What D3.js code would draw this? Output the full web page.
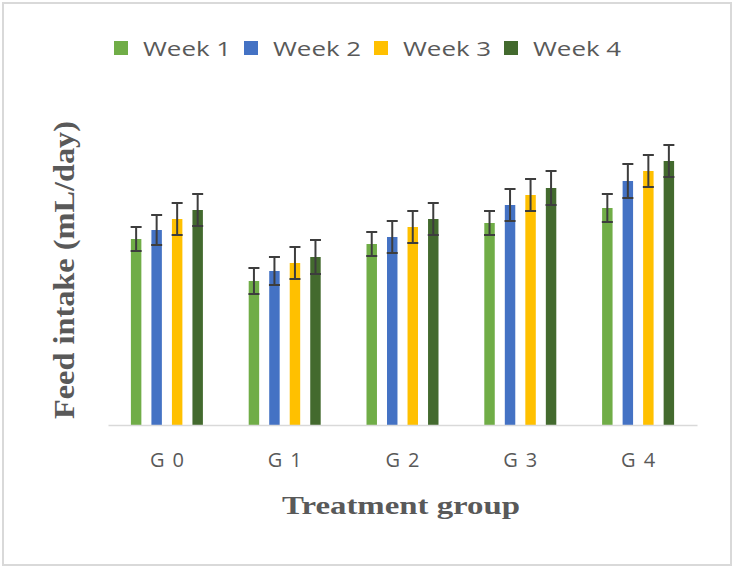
<!DOCTYPE html>
<html>
<head>
<meta charset="utf-8">
<script src="https://cdn.jsdelivr.net/npm/d3@7"></script>
<style>
  html, body { margin: 0; padding: 0; background: #fff; }
  svg { display: block; }
</style>
</head>
<body>
<svg id="chart" width="736" height="569"></svg>
<script>
// ---- data ----
const groups = ["G0", "G1", "G2", "G3", "G4"];
const weeks = ["Week 1", "Week 2", "Week 3", "Week 4"];
const week1 = [18.6, 14.4, 18.1, 20.2, 21.7];
const week2 = [19.5, 15.4, 18.8, 22.0, 24.4];
const week3 = [20.6, 16.2, 19.8, 23.0, 25.4];
const week4 = [21.5, 16.8, 20.6, 23.7, 26.4];
const err1 = [1.2, 1.3, 1.2, 1.2, 1.4];
const err2 = [1.5, 1.4, 1.6, 1.6, 1.7];
const err3 = [1.6, 1.6, 1.6, 1.6, 1.6];
const err4 = [1.6, 1.7, 1.6, 1.7, 1.6];
const colors = ["#70ad47", "#4472c4", "#ffc000", "#436a2e"];
const yTitle = "Feed intake (mL/day)";
const xTitle = "Treatment group";

const seriesVals = [week1, week2, week3, week4];
const seriesErr = [err1, err2, err3, err4];
const rows = [];
groups.forEach((g, gi) => {
  weeks.forEach((w, wi) => {
    rows.push({ group: g, week: w, wi, value: seriesVals[wi][gi], err: seriesErr[wi][gi] });
  });
});

const svg = d3.select("#chart");

// border
svg.append("rect")
  .attr("x", 3).attr("y", 3).attr("width", 728).attr("height", 562)
  .attr("fill", "#fff").attr("stroke", "#d9d9d9").attr("stroke-width", 2);

const x0 = d3.scaleBand().domain(groups).range([108, 697]).padding(0);
const x1 = d3.scaleBand().domain(weeks).range([-36, 36]).paddingInner(0.49).paddingOuter(0);
const y = d3.scaleLinear().domain([0, 32]).range([425, 105]);
const color = d3.scaleOrdinal().domain(weeks).range(colors);

// bars
svg.append("g").selectAll("rect").data(rows).join("rect")
  .attr("x", d => x0(d.group) + x0.bandwidth() / 2 + x1(d.week))
  .attr("y", d => y(d.value))
  .attr("width", x1.bandwidth())
  .attr("height", d => y(0) - y(d.value))
  .attr("fill", d => color(d.week));

// error bars
const eg = svg.append("g").attr("stroke", "#3d3d3d").attr("stroke-width", 2);
const cx = d => x0(d.group) + x0.bandwidth() / 2 + x1(d.week) + x1.bandwidth() / 2;
const capW = 5.5;
eg.selectAll("line.v").data(rows).join("line").attr("class", "v")
  .attr("x1", cx).attr("x2", cx)
  .attr("y1", d => y(d.value + d.err)).attr("y2", d => y(d.value - d.err));
eg.selectAll("line.t").data(rows).join("line").attr("class", "t")
  .attr("x1", d => cx(d) - capW).attr("x2", d => cx(d) + capW)
  .attr("y1", d => y(d.value + d.err)).attr("y2", d => y(d.value + d.err));
eg.selectAll("line.b").data(rows).join("line").attr("class", "b")
  .attr("x1", d => cx(d) - capW).attr("x2", d => cx(d) + capW)
  .attr("y1", d => y(d.value - d.err)).attr("y2", d => y(d.value - d.err));

// x axis
const xAxis = d3.axisBottom(x0).tickSize(0).tickPadding(0);
const ax = svg.append("g").attr("transform", `translate(0,${y(0)})`).call(xAxis);
ax.select(".domain").attr("stroke", "#d9d9d9").attr("stroke-width", 1.5);
ax.selectAll(".tick text")
  .attr("y", 42).attr("dy", 0)
  .attr("font-family", "'Open Sans', sans-serif")
  .attr("font-size", 20)
  .attr("fill", "#595959")
  .attr("textLength", 34)
  .attr("lengthAdjust", "spacing");

// axis titles
svg.append("text")
  .attr("transform", "translate(74,270) rotate(-90)")
  .attr("text-anchor", "middle")
  .attr("font-family", "'Liberation Serif', serif")
  .attr("font-weight", "bold")
  .attr("font-size", 30)
  .attr("fill", "#595959")
  .attr("textLength", 298)
  .attr("lengthAdjust", "spacingAndGlyphs")
  .text(yTitle);

svg.append("text")
  .attr("x", 401).attr("y", 514)
  .attr("text-anchor", "middle")
  .attr("font-family", "'Liberation Serif', serif")
  .attr("font-weight", "bold")
  .attr("font-size", 25)
  .attr("fill", "#595959")
  .attr("textLength", 238)
  .attr("lengthAdjust", "spacingAndGlyphs")
  .text(xTitle);

// legend
const lx = d3.scalePoint().domain(weeks).range([114, 504]);
const lg = svg.append("g").selectAll("g").data(weeks).join("g")
  .attr("transform", d => `translate(${lx(d)},41)`);
lg.append("rect").attr("width", 14).attr("height", 14).attr("fill", d => color(d));
lg.append("text")
  .attr("x", 29).attr("y", 14.5)
  .attr("font-family", "'Open Sans', sans-serif")
  .attr("font-size", 20)
  .attr("fill", "#595959")
  .attr("textLength", 88)
  .attr("lengthAdjust", "spacingAndGlyphs")
  .text(d => d);
</script>
</body>
</html>
